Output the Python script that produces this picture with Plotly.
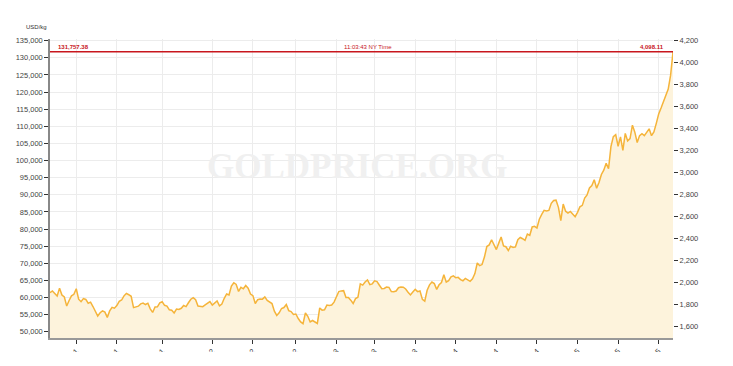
import plotly.graph_objects as go
from datetime import datetime

# ---- data (USD per troy ounce; right axis) ----
dates = [
    # Oct-Dec 2020
    "2020-10-14", "2020-10-16", "2020-10-23", "2020-10-30", "2020-11-06", "2020-11-13",
    "2020-11-20", "2020-11-27", "2020-12-04", "2020-12-18", "2020-12-31",
    # Jan-Apr 2021
    "2021-01-06", "2021-01-08", "2021-01-15", "2021-01-22", "2021-01-29", "2021-02-05",
    "2021-02-12", "2021-02-19", "2021-02-26", "2021-03-05", "2021-03-12", "2021-03-19",
    "2021-03-26", "2021-03-31", "2021-04-09", "2021-04-16", "2021-04-30",
    # May-Aug 2021
    "2021-05-03", "2021-05-07", "2021-05-14", "2021-05-21", "2021-05-28", "2021-06-04",
    "2021-06-11", "2021-06-17", "2021-06-25", "2021-07-02", "2021-07-09", "2021-07-16",
    "2021-07-23", "2021-07-30", "2021-08-06", "2021-08-09", "2021-08-13", "2021-08-20",
    "2021-08-27",
    # Sep-Dec 2021
    "2021-09-03", "2021-09-07", "2021-09-10", "2021-09-17", "2021-09-24", "2021-09-29",
    "2021-10-01", "2021-10-08", "2021-10-15", "2021-10-22", "2021-10-29", "2021-11-05",
    "2021-11-10", "2021-11-12", "2021-11-19", "2021-11-26", "2021-12-03", "2021-12-10",
    "2021-12-17", "2021-12-24", "2021-12-31",
    # Jan-Apr 2022
    "2022-01-07", "2022-01-14", "2022-01-21", "2022-01-28", "2022-02-04", "2022-02-11",
    "2022-02-18", "2022-02-25", "2022-03-04", "2022-03-08", "2022-03-11", "2022-03-18",
    "2022-03-25", "2022-04-08", "2022-04-14", "2022-04-22", "2022-04-29",
    # May-Aug 2022
    "2022-05-06", "2022-05-13", "2022-05-20", "2022-05-27", "2022-06-03", "2022-06-10",
    "2022-06-17", "2022-06-24", "2022-07-01", "2022-07-08", "2022-07-15", "2022-07-22",
    "2022-07-29", "2022-08-05", "2022-08-12", "2022-08-19", "2022-08-26", "2022-08-31",
    # Sep-Dec 2022
    "2022-09-09", "2022-09-16", "2022-09-23", "2022-09-28", "2022-10-04", "2022-10-07",
    "2022-10-14", "2022-10-21", "2022-10-28", "2022-11-03", "2022-11-11", "2022-11-18",
    "2022-11-25", "2022-12-02", "2022-12-16", "2022-12-23", "2022-12-30",
    # Jan-Apr 2023
    "2023-01-06", "2023-01-13", "2023-01-20", "2023-01-27", "2023-02-03", "2023-02-10",
    "2023-02-17", "2023-02-24", "2023-03-03", "2023-03-10", "2023-03-17", "2023-03-24",
    "2023-04-07", "2023-04-14", "2023-04-21", "2023-04-28",
    # May-Aug 2023
    "2023-05-05", "2023-05-12", "2023-05-19", "2023-05-26", "2023-06-02", "2023-06-09",
    "2023-06-16", "2023-06-23", "2023-06-30", "2023-07-07", "2023-07-14", "2023-07-21",
    "2023-07-28", "2023-08-04", "2023-08-11", "2023-08-18", "2023-08-25",
    # Sep-Dec 2023
    "2023-09-01", "2023-09-08", "2023-09-22", "2023-09-29", "2023-10-06", "2023-10-13",
    "2023-10-20", "2023-10-27", "2023-11-03", "2023-11-10", "2023-11-17", "2023-11-24",
    "2023-12-01", "2023-12-08", "2023-12-15", "2023-12-22", "2023-12-29",
    # Jan-Apr 2024
    "2024-01-05", "2024-01-12", "2024-01-19", "2024-01-26", "2024-02-02", "2024-02-09",
    "2024-02-16", "2024-02-23", "2024-03-01", "2024-03-08", "2024-03-15", "2024-03-22",
    "2024-03-29", "2024-04-05", "2024-04-12", "2024-04-19", "2024-04-26",
    # May-Aug 2024
    "2024-05-03", "2024-05-10", "2024-05-17", "2024-05-24", "2024-05-31", "2024-06-07",
    "2024-06-14", "2024-06-21", "2024-06-28", "2024-07-05", "2024-07-12", "2024-07-19",
    "2024-07-26", "2024-08-02", "2024-08-09", "2024-08-16", "2024-08-23",
    # Sep-Dec 2024
    "2024-09-06", "2024-09-13", "2024-09-20", "2024-09-27", "2024-10-04", "2024-10-11",
    "2024-10-18", "2024-10-25", "2024-10-30", "2024-11-08", "2024-11-14", "2024-11-22",
    "2024-11-29", "2024-12-06", "2024-12-13", "2024-12-20", "2024-12-27",
    # Jan-Apr 2025
    "2025-01-03", "2025-01-10", "2025-01-17", "2025-01-24", "2025-01-31", "2025-02-07",
    "2025-02-14", "2025-02-21", "2025-02-28", "2025-03-07", "2025-03-14", "2025-03-21",
    "2025-03-28", "2025-04-04", "2025-04-11", "2025-04-17", "2025-04-25",
    # May-Aug 2025
    "2025-05-02", "2025-05-09", "2025-05-16", "2025-05-23", "2025-05-30", "2025-06-06",
    "2025-06-13", "2025-06-20", "2025-06-27", "2025-07-04", "2025-07-11", "2025-07-25",
    "2025-08-01", "2025-08-08", "2025-08-15", "2025-08-22", "2025-08-29",
    # Sep-Oct 2025
    "2025-09-02", "2025-09-05", "2025-09-12", "2025-09-19", "2025-09-26", "2025-10-03",
    "2025-10-09",
]

price_usd_oz = [
    1910, 1925, 1902, 1879, 1951, 1889, 1871, 1788, 1839, 1881, 1895,
    1945, 1850, 1828, 1856, 1848, 1814, 1824, 1784, 1734, 1698, 1727, 1745,
    1733, 1685, 1744, 1777, 1769,
    1792, 1831, 1843, 1881, 1903, 1891, 1877, 1774, 1781, 1787, 1808, 1815,
    1802, 1814, 1763, 1730, 1779, 1781, 1817,
    1827, 1795, 1788, 1754, 1750, 1726, 1761, 1757, 1768, 1793, 1783, 1818,
    1850, 1865, 1846, 1788, 1783, 1783, 1798, 1811, 1829,
    1797, 1818, 1835, 1791, 1807, 1859, 1898, 1889, 1970, 2000, 1985, 1921,
    1958, 1945, 1975, 1950, 1897,
    1883, 1811, 1846, 1853, 1851, 1871, 1840, 1827, 1811, 1742, 1703, 1727,
    1766, 1775, 1802, 1747, 1738, 1712,
    1716, 1675, 1644, 1628, 1725, 1695, 1644, 1657, 1645, 1630, 1771, 1751,
    1754, 1797, 1793, 1798, 1824,
    1865, 1920, 1926, 1928, 1865, 1865, 1842, 1811, 1856, 1868, 1989, 1978,
    2007, 2025, 1983, 1990,
    2017, 2011, 1977, 1946, 1948, 1961, 1958, 1920, 1919, 1925, 1955, 1962,
    1959, 1943, 1914, 1889, 1915,
    1940, 1919, 1925, 1849, 1833, 1932, 1981, 2006, 1992, 1940, 1981, 2002,
    2072, 2005, 2019, 2053, 2063,
    2045, 2049, 2029, 2018, 2039, 2024, 2013, 2036, 2083, 2179, 2155, 2165,
    2233, 2329, 2344, 2391, 2337,
    2301, 2360, 2415, 2334, 2327, 2293, 2332, 2321, 2326, 2391, 2411, 2400,
    2386, 2443, 2431, 2507, 2512,
    2497, 2577, 2621, 2658, 2653, 2657, 2721, 2747, 2750, 2685, 2565, 2715,
    2650, 2633, 2648, 2622, 2600,
    2640, 2690, 2703, 2770, 2798, 2861, 2883, 2936, 2858, 2910, 2984, 3023,
    3085, 3037, 3237, 3327, 3345,
    3240, 3325, 3202, 3357, 3289, 3310, 3432, 3368, 3274, 3337, 3355, 3337,
    3363, 3398, 3336, 3371, 3448,
    3533, 3587, 3643, 3685, 3760, 3886, 4098.11,
]

OZ_PER_KG = 32.1507466
price_usd_kg = [p * OZ_PER_KG for p in price_usd_oz]

left_ticks = list(range(50000, 135001, 5000))
right_ticks = list(range(1600, 4201, 200))
latest_kg = 131757.38
latest_oz = 4098.11
timestamp_label = "11:03:43 NY Time"
y_unit = "USD/kg"
watermark = "GOLDPRICE.ORG"

# x ticks: first point of Jan / May / Sep
tick_vals, tick_text = [], []
prev = None
for d in dates:
    dt = datetime.strptime(d, "%Y-%m-%d")
    if prev is not None and dt.month != prev.month and dt.month in (1, 5, 9):
        tick_vals.append(d)
        tick_text.append(dt.strftime("%b %Y"))
    prev = dt

Y_MIN, Y_MAX = 48160, 135500
FONT = "Liberation Sans, Arial, sans-serif"
TICKFONT = dict(family=FONT, size=7.5, color="#444")

fig = go.Figure()
fig.add_trace(go.Scatter(
    x=dates, y=price_usd_kg, mode="lines",
    line=dict(color="#f5b43a", width=1.5),
    fill="tozeroy", fillcolor="#fdf3dc",
    showlegend=False, hoverinfo="x+y",
))
fig.add_trace(go.Scatter(
    x=dates, y=price_usd_oz, yaxis="y2", mode="lines",
    line=dict(width=0, color="rgba(0,0,0,0)"),
    showlegend=False, hoverinfo="skip",
))

fig.add_shape(type="line", xref="paper", x0=0, x1=1, yref="y",
              y0=latest_kg, y1=latest_kg,
              line=dict(color="#c8161d", width=1.5))

fig.add_annotation(xref="paper", x=0.01, yref="y", y=latest_kg,
                   text="<b>" + f"{latest_kg:,.2f}" + "</b>", showarrow=False,
                   xanchor="left", yanchor="bottom",
                   font=dict(family=FONT, size=6, color="#c8161d"))
fig.add_annotation(xref="paper", x=0.51, yref="y", y=latest_kg,
                   text=timestamp_label, showarrow=False,
                   xanchor="center", yanchor="bottom",
                   font=dict(family=FONT, size=6, color="#c8161d"))
fig.add_annotation(xref="paper", x=0.988, yref="y", y=latest_kg,
                   text="<b>" + f"{latest_oz:,.2f}" + "</b>", showarrow=False,
                   xanchor="right", yanchor="bottom",
                   font=dict(family=FONT, size=6, color="#c8161d"))
fig.add_annotation(xref="paper", x=-0.021, yref="paper", y=1.04,
                   text=y_unit, showarrow=False, xanchor="center", yanchor="middle",
                   font=dict(family=FONT, size=6, color="#333"))
fig.add_annotation(xref="paper", x=0.493, yref="paper", y=0.572,
                   text="<b>" + watermark + "</b>", showarrow=False,
                   xanchor="center", yanchor="middle",
                   font=dict(family="Liberation Serif, Times New Roman, serif",
                             size=35, color="#f0f0f0"))

# the page body adds an 8 px offset, so the figure is sized to land the
# plot area where the reference has it (x 50-673, y 39-338)
fig.update_layout(
    width=725, height=344,
    margin=dict(l=42, r=60, t=31, b=14),
    paper_bgcolor="white", plot_bgcolor="white",
    font=dict(family=FONT),
    hovermode="closest",
    xaxis=dict(
        type="category", range=[0, len(dates) - 1],
        tickmode="array", tickvals=tick_vals, ticktext=tick_text,
        tickangle=-45, ticks="outside", ticklen=4, tickcolor="#333",
        tickfont=TICKFONT, showline=True, linecolor="#999", linewidth=2,
        showgrid=True, gridcolor="#ececec", gridwidth=1,
        zeroline=False, automargin=False,
    ),
    yaxis=dict(
        range=[Y_MIN, Y_MAX], tickmode="array", tickvals=left_ticks,
        tickformat=",", ticks="outside", ticklen=4, tickcolor="#333",
        tickfont=TICKFONT, showline=True, linecolor="#888", linewidth=1.5,
        showgrid=True, gridcolor="#ececec", gridwidth=1,
        zeroline=False, automargin=False,
    ),
    yaxis2=dict(
        overlaying="y", side="right",
        range=[Y_MIN / OZ_PER_KG, Y_MAX / OZ_PER_KG],
        tickmode="array", tickvals=right_ticks, tickformat=",",
        ticks="outside", ticklen=4, tickcolor="#333", tickfont=TICKFONT,
        showline=False, showgrid=False, zeroline=False, automargin=False,
    ),
)

fig.write_html("out.html")
